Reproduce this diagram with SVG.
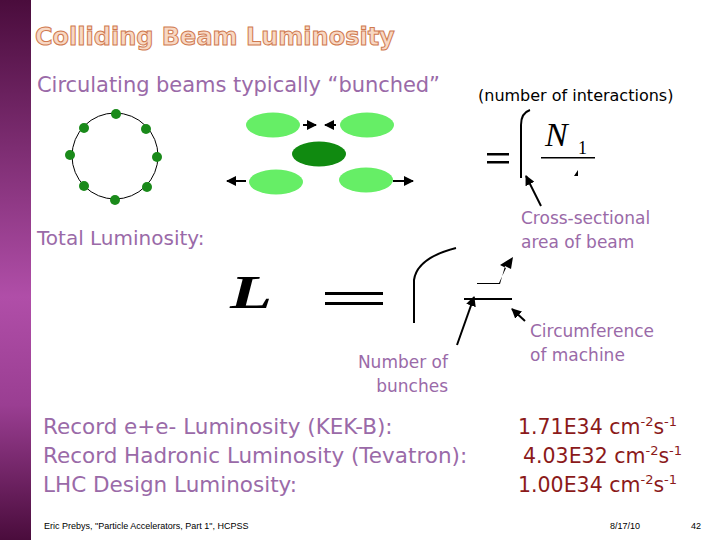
<svg xmlns="http://www.w3.org/2000/svg" width="720" height="540" viewBox="0 0 720 540">
<defs>
<linearGradient id="side" x1="0" y1="0" x2="0" y2="1">
<stop offset="0" stop-color="#4a0c3c"/><stop offset="0.55" stop-color="#b04ea8"/><stop offset="0.75" stop-color="#9a3e92"/><stop offset="1" stop-color="#4a0c3c"/>
</linearGradient>
<marker id="ah" viewBox="0 0 10 10" refX="9" refY="5" markerWidth="5" markerHeight="5" orient="auto"><path d="M0,0 L10,5 L0,10 z" fill="#000"/></marker>
</defs>
<style>
.t{font-family:"DejaVu Sans","Noto Sans",sans-serif;fill:#9a6aa8}
.r{font-family:"DejaVu Sans","Noto Sans",sans-serif;fill:#8b1a1a;font-size:20.5px}
.m{font-family:"Liberation Serif",serif;font-style:italic}
.ln{stroke:#000;stroke-width:2;fill:none}
.dot{fill:#1a8a1a}
.lg{fill:#66ee66}
.ft{font-family:"Liberation Sans",sans-serif;font-size:9px;fill:#000}
</style>
<rect width="720" height="540" fill="#fff"/>
<rect width="31" height="540" fill="url(#side)"/>
<text x="35" y="45" font-family="DejaVu Sans,sans-serif" font-weight="bold" font-size="24" fill="#f8d8c4" stroke="#d07a50" stroke-width="1">Colliding Beam Luminosity</text>
<text class="t" x="37" y="92" font-size="21" textLength="403">Circulating beams typically “bunched”</text>
<text x="478" y="101" font-family="DejaVu Sans,sans-serif" font-size="16" fill="#000">(number of interactions)</text>
<g id="ring">
<circle cx="115" cy="156" r="43" fill="none" stroke="#000" stroke-width="1"/>
<circle class="dot" cx="116" cy="114" r="5"/><circle class="dot" cx="146" cy="129" r="5"/><circle class="dot" cx="157" cy="157" r="5"/><circle class="dot" cx="147" cy="187" r="5"/><circle class="dot" cx="115" cy="200" r="5"/><circle class="dot" cx="84" cy="186" r="5"/><circle class="dot" cx="70" cy="155" r="5"/><circle class="dot" cx="84" cy="128" r="5"/>
</g>
<g id="bunches">
<ellipse class="lg" cx="273" cy="125" rx="27" ry="12.5"/><ellipse class="lg" cx="367" cy="125" rx="27" ry="12.5"/>
<ellipse cx="319" cy="154" rx="27" ry="12.5" fill="#108a10"/>
<ellipse class="lg" cx="276" cy="182" rx="27" ry="12.5"/><ellipse class="lg" cx="366" cy="180" rx="27" ry="12.5"/>
</g>
<g id="connectors">
<line class="ln" x1="303" y1="125" x2="316" y2="125" marker-end="url(#ah)"/>
<line class="ln" x1="336" y1="125" x2="325" y2="125" marker-end="url(#ah)"/>
<line class="ln" x1="246" y1="181" x2="227" y2="181" marker-end="url(#ah)"/>
<line class="ln" x1="393" y1="181" x2="413" y2="181" marker-end="url(#ah)"/>
<line class="ln" x1="541" y1="206" x2="526" y2="176" marker-end="url(#ah)"/>
<line class="ln" x1="457" y1="345" x2="474" y2="297" marker-end="url(#ah)"/>
<line class="ln" x1="525" y1="321" x2="512" y2="309" marker-end="url(#ah)"/>
</g>
<g id="eq1">
<rect x="487" y="153" width="22" height="2.5"/><rect x="487" y="161" width="22" height="2.5"/>
<path d="M521,178 L521,125 Q521,113 530,110" class="ln"/>
<text class="m" x="545" y="146" font-size="34">N</text>
<text x="578" y="154" font-family="Liberation Serif,serif" font-size="18">1</text>
<rect x="541" y="157" width="54" height="1.5"/>
<path d="M574,176 L578,170 L578,176 z"/>
</g>
<g id="eq2">
<text class="m" x="230" y="308" font-size="46" font-weight="bold" transform="translate(230 308) scale(1.5 1) translate(-230 -308)">L</text>
<rect x="325" y="292" width="58" height="3"/><rect x="325" y="302" width="58" height="3"/>
<path d="M414,323 L414,280 Q417,258 456,248" class="ln" stroke-width="2.5"/>
<path d="M477,283 L499,283 L506,268 L500,265 L513,257 L511,269 L505,266 L500,284 L477,284 z"/>
<rect x="464" y="298" width="48" height="2"/>
</g>
<text class="t" x="37" y="245" font-size="20">Total Luminosity:</text>
<text class="t" x="521" y="224" font-size="17">Cross-sectional</text>
<text class="t" x="521" y="248" font-size="17">area of beam</text>
<text class="t" x="530" y="337" font-size="17">Circumference</text>
<text class="t" x="530" y="361" font-size="17">of machine</text>
<text class="t" x="448" y="368" font-size="17" text-anchor="end">Number of</text>
<text class="t" x="448" y="392" font-size="17" text-anchor="end">bunches</text>
<text class="t" x="43" y="434" font-size="21.5">Record e+e- Luminosity (KEK-B):</text>
<text class="t" x="43" y="463" font-size="21.5">Record Hadronic Luminosity (Tevatron):</text>
<text class="t" x="43" y="492" font-size="21.5">LHC Design Luminosity:</text>
<text class="r" x="518" y="434">1.71E34 cm<tspan dy="-8" font-size="13">-2</tspan><tspan dy="8">s</tspan><tspan dy="-8" font-size="13">-1</tspan></text>
<text class="r" x="523" y="463">4.03E32 cm<tspan dy="-8" font-size="13">-2</tspan><tspan dy="8">s</tspan><tspan dy="-8" font-size="13">-1</tspan></text>
<text class="r" x="518" y="492">1.00E34 cm<tspan dy="-8" font-size="13">-2</tspan><tspan dy="8">s</tspan><tspan dy="-8" font-size="13">-1</tspan></text>
<text class="ft" x="44" y="529">Eric Prebys, "Particle Accelerators, Part 1", HCPSS</text>
<text class="ft" x="610" y="529">8/17/10</text>
<text class="ft" x="691" y="529" font-size="11">42</text>
</svg>
